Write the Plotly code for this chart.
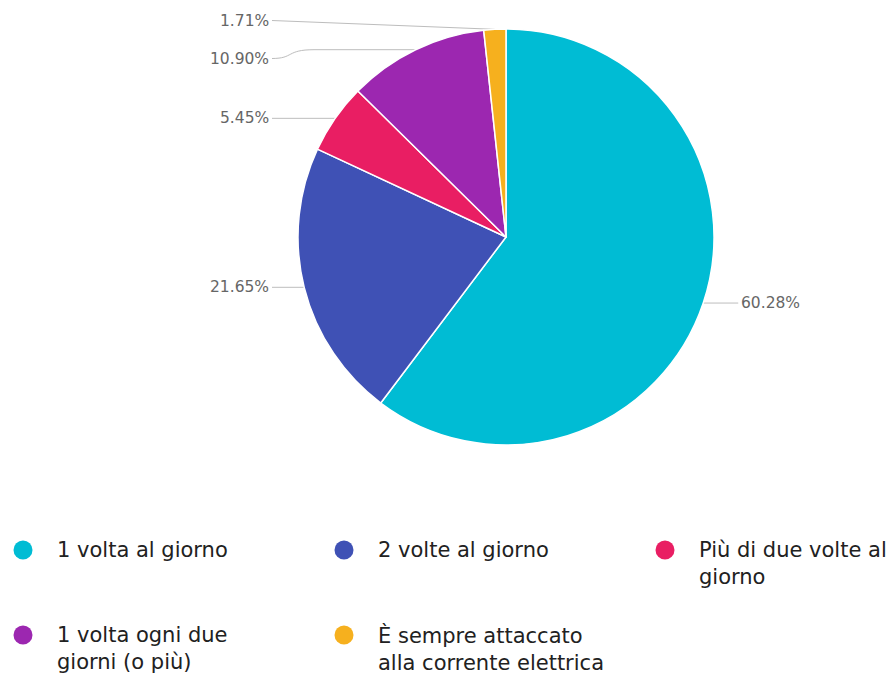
import math
import plotly.graph_objects as go

# Survey answers: how often the device is charged
categories = [
    "1 volta al giorno",
    "2 volte al giorno",
    "Più di due volte al giorno",
    "1 volta ogni due giorni (o più)",
    "È sempre attaccato alla corrente elettrica",
]
legend_labels = [
    "1 volta al giorno",
    "2 volte al giorno",
    "Più di due volte al<br>giorno",
    "1 volta ogni due<br>giorni (o più)",
    "È sempre attaccato<br>alla corrente elettrica",
]
shares = [60.28, 21.65, 5.45, 10.90, 1.71]
colors = ["#00BCD4", "#3F51B5", "#E91E63", "#9C27B0", "#F6B01E"]

W, H = 896, 674
CX, CY, R = 506, 237, 208          # pie centre and radius in pixels
FONT = "DejaVu Sans"

fig = go.Figure()

fig.add_trace(go.Pie(
    labels=categories,
    values=shares,
    marker=dict(colors=colors, line=dict(color="white", width=1.5)),
    sort=False,
    direction="clockwise",
    rotation=0,
    textinfo="none",
    hoverinfo="label+percent",
    showlegend=False,
    domain=dict(x=[(CX - R) / W, (CX + R) / W], y=[1 - (CY + R) / H, 1 - (CY - R) / H]),
))

# Outside labels with leader lines, placed from each slice's mid angle
total = sum(shares)
acc = 0.0
items = []
for v in shares:
    mid = (acc + v / 2) / total * 2 * math.pi
    acc += v
    rx = CX + R * math.sin(mid)
    ry = CY - R * math.cos(mid)
    side = 1 if math.sin(mid) >= 0 else -1
    items.append(dict(v=v, rx=rx, ry=ry, side=side, ly=ry))

# spread labels on each side so they do not overlap
GAP = 38
for side in (1, -1):
    grp = sorted([it for it in items if it["side"] == side], key=lambda d: d["ry"])
    changed = True
    while changed:
        changed = False
        for a, b in zip(grp, grp[1:]):
            if b["ly"] - a["ly"] < GAP - 0.01:
                m = (a["ly"] + b["ly"]) / 2
                a["ly"], b["ly"] = m - GAP / 2, m + GAP / 2
                changed = True

LEFT_X = 272          # where left-side leader lines end next to the text
shapes = []
annotations = []
for it in items:
    ly, rx, ry, side = it["ly"], it["rx"], it["ry"], it["side"]
    lx = rx + 35 if side > 0 else LEFT_X
    t = -side          # direction from the label towards the pie
    if abs(ly - ry) < 1 or ly < ry:
        path = f"M {lx},{ly} L {rx},{ry}"
    else:
        path = (f"M {lx},{ly} C {lx + 22 * t},{ly} {lx + 14 * t},{ry} "
                f"{lx + 42 * t},{ry} L {rx},{ry}")
    shapes.append(dict(type="path", path=path, xref="x", yref="y",
                       line=dict(color="#BDBDBD", width=1), layer="below"))
    annotations.append(dict(
        x=lx + (1 if side > 0 else -1), y=ly, xref="x", yref="y",
        text=f"{it['v']:.2f}%", showarrow=False,
        xanchor="left" if side > 0 else "right", yanchor="middle",
        font=dict(family=FONT, size=15.5, color="#666666"),
    ))

# Legend: three columns of circle markers with wrapped labels
COL0, COL_STEP = 23, 321
ROW0, ROW_STEP = 550, 85
LEG_FS = 21
for i, (lab, col) in enumerate(zip(legend_labels, colors)):
    mx = COL0 + (i % 3) * COL_STEP
    my = ROW0 + (i // 3) * ROW_STEP
    fig.add_trace(go.Scatter(
        x=[mx], y=[my], mode="markers", name=categories[i],
        marker=dict(symbol="circle", size=19, color=col, line=dict(width=0)),
        showlegend=False, hoverinfo="name",
    ))
    annotations.append(dict(
        x=mx + 32, y=my - LEG_FS * 0.68, xref="x", yref="y",
        text=lab, showarrow=False, align="left",
        xanchor="left", yanchor="top",
        font=dict(family=FONT, size=LEG_FS, color="#212121"),
    ))

fig.update_layout(
    width=W, height=H,
    margin=dict(l=0, r=0, t=0, b=0),
    paper_bgcolor="white", plot_bgcolor="white",
    xaxis=dict(range=[0, W], visible=False, domain=[0, 1], fixedrange=True),
    yaxis=dict(range=[H, 0], visible=False, domain=[0, 1], fixedrange=True),
    shapes=shapes,
    annotations=annotations,
    showlegend=False,
    font=dict(family=FONT),
)

fig.write_html("out.html")
